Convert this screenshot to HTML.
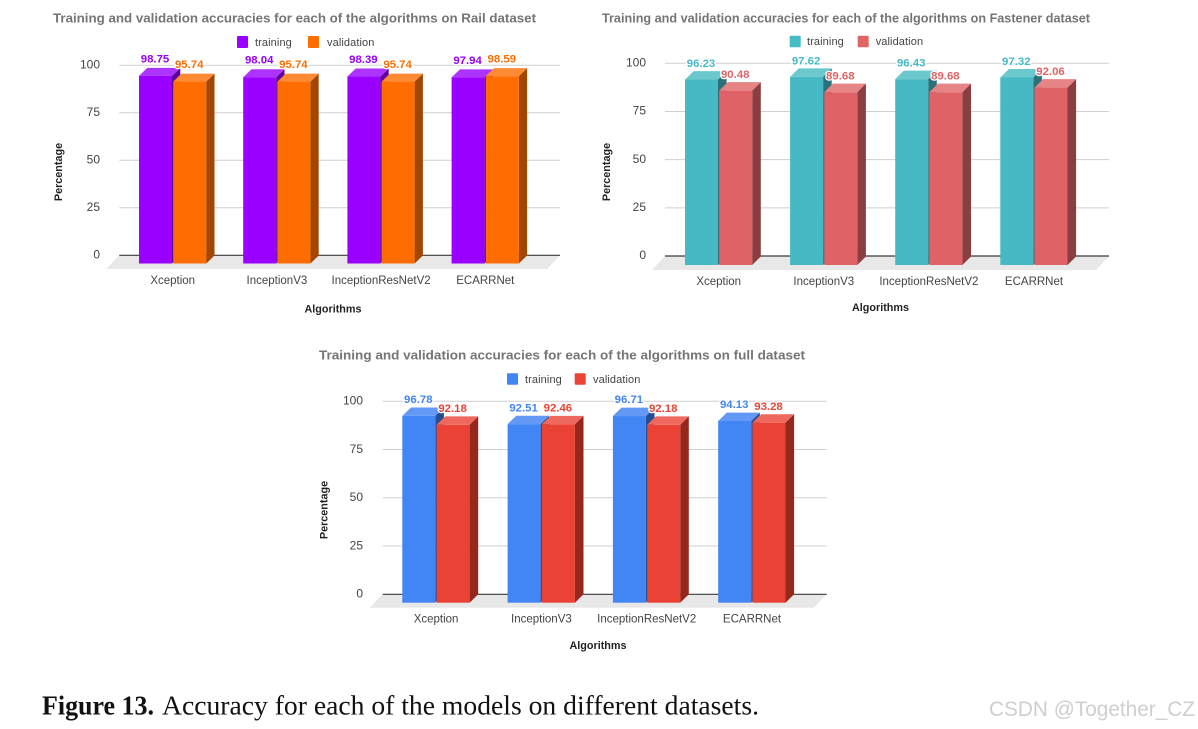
<!DOCTYPE html>
<html lang="en">
<head>
<meta charset="utf-8">
<title>Accuracy for each of the models on different datasets</title>
<style>
  html, body { margin: 0; padding: 0; background: #fff; }
  body { width: 1198px; height: 729px; overflow: hidden; }
  svg { display: block; font-family: "Liberation Sans", Arial, sans-serif; filter: blur(.35px); }
  .title { font-size: 13.2px; font-weight: bold; fill: #757575; }
  .legend { font-size: 11px; fill: #444; letter-spacing: .1px; }
  .axis-title { font-size: 10.8px; font-weight: bold; fill: #222; text-anchor: middle; }
  .caption { font-family: "Liberation Serif", serif; font-size: 27px; fill: #111; }
</style>
</head>
<body>
<svg id="figure" width="1198" height="729" viewBox="0 0 1198 729" xmlns="http://www.w3.org/2000/svg">

  <g id="rail-chart">
    <text class="title" x="53" y="22.5" textLength="483" lengthAdjust="spacingAndGlyphs">Training and validation accuracies for each of the algorithms on Rail dataset</text>
    <rect x="237" y="36" width="11" height="12" rx="1" fill="#9900ff"/>
    <text class="legend" x="255" y="46">training</text>
    <rect x="308" y="36" width="11" height="12" rx="1" fill="#ff6d01"/>
    <text class="legend" x="327" y="46">validation</text>
    <text class="axis-title" transform="translate(62,172) rotate(-90)">Percentage</text>
    <text class="axis-title" x="333" y="312.5">Algorithms</text>
  </g>

  <g id="fastener-chart">
    <text class="title" x="602" y="22.5" textLength="488" lengthAdjust="spacingAndGlyphs">Training and validation accuracies for each of the algorithms on Fastener dataset</text>
    <rect x="789.7" y="35.7" width="11" height="11.5" rx="1" fill="#46bdc6"/>
    <text class="legend" x="807" y="45">training</text>
    <rect x="857.7" y="35.7" width="11" height="11.5" rx="1" fill="#e06666"/>
    <text class="legend" x="875.7" y="45">validation</text>
    <text class="axis-title" transform="translate(610,172) rotate(-90)">Percentage</text>
    <text class="axis-title" x="880.5" y="311">Algorithms</text>
  </g>

  <g id="full-chart">
    <text class="title" x="319" y="359.5" textLength="486" lengthAdjust="spacingAndGlyphs">Training and validation accuracies for each of the algorithms on full dataset</text>
    <rect x="507" y="373.3" width="11" height="11.5" rx="1" fill="#4285f4"/>
    <text class="legend" x="525" y="383">training</text>
    <rect x="574.7" y="373.3" width="11" height="11.5" rx="1" fill="#ea4335"/>
    <text class="legend" x="593" y="383">validation</text>
    <text class="axis-title" transform="translate(327.5,510) rotate(-90)">Percentage</text>
    <text class="axis-title" x="598" y="649">Algorithms</text>
  </g>

  <text class="caption" x="42" y="714.5" font-weight="bold" textLength="112" lengthAdjust="spacingAndGlyphs">Figure 13.</text>
  <text class="caption" x="162" y="714.5" textLength="597" lengthAdjust="spacingAndGlyphs">Accuracy for each of the models on different datasets.</text>
  <text x="989" y="716" font-size="21" fill="#cfcfcf" textLength="206" lengthAdjust="spacingAndGlyphs">CSDN @Together_CZ</text>
</svg>

<script>
const categories = ['Xception', 'InceptionV3', 'InceptionResNetV2', 'ECARRNet'];
const tickValues = [0, 25, 50, 75, 100];

const railTraining = [98.75, 98.04, 98.39, 97.94];
const railValidation = [95.74, 95.74, 95.74, 98.59];

const fastenerTraining = [96.23, 97.62, 96.43, 97.32];
const fastenerValidation = [90.48, 89.68, 89.68, 92.06];

const fullTraining = [96.78, 92.51, 96.71, 94.13];
const fullValidation = [92.18, 92.46, 92.18, 93.28];

const SVG_NS = 'http://www.w3.org/2000/svg';

function svgEl(tag, attrs, parent) {
  const el = document.createElementNS(SVG_NS, tag);
  Object.keys(attrs).forEach(function (k) { el.setAttribute(k, attrs[k]); });
  parent.appendChild(el);
  return el;
}

function drawBar(parent, name, x, value, layout, colors) {
  const w = layout.barWidth;
  const dx = layout.depthX;
  const dy = layout.depthY;
  const bottom = layout.barBottom;
  const top = bottom - value * layout.unit;
  const bar = svgEl('g', {}, parent);
  
  
  const side = svgEl('polygon', {
    points: (x + w) + ',' + top + ' ' + (x + w + dx) + ',' + (top - dy) + ' ' +
            (x + w + dx) + ',' + (bottom - dy) + ' ' + (x + w) + ',' + bottom,
    fill: colors[2]
  }, bar);
  
  
  const cap = svgEl('polygon', {
    points: x + ',' + top + ' ' + (x + dx) + ',' + (top - dy) + ' ' +
            (x + w + dx) + ',' + (top - dy) + ' ' + (x + w) + ',' + top,
    fill: colors[1]
  }, bar);
  
  
  const front = svgEl('rect', { x: x, y: top, width: w, height: bottom - top, fill: colors[0] }, bar);
  
  
}

function drawChart(parentId, prefix, training, validation, layout) {
  const root = document.getElementById(parentId);
  const plot = document.createElementNS(SVG_NS, 'g');
  
  
  root.appendChild(plot);

  const yGrid = function (v) { return layout.zeroY - v * layout.unit; };
  const yTop = function (v) { return layout.barBottom - v * layout.unit - layout.depthY; };
  const xBar = function (i) { return layout.firstX + i * layout.step; };

  const floor = svgEl('polygon', {
    points: layout.gridLeft + ',' + layout.zeroY + ' ' + layout.gridRight + ',' + layout.zeroY + ' ' +
            (layout.gridRight - 13) + ',' + layout.floorBottom + ' ' + (layout.gridLeft - 13) + ',' + layout.floorBottom,
    fill: '#e8e8e8'
  }, plot);
  
  

  tickValues.forEach(function (t) {
    const line = svgEl('line', {
      x1: layout.gridLeft, x2: layout.gridRight, y1: yGrid(t), y2: yGrid(t),
      stroke: t === 0 ? '#3a3a3a' : '#cfcfcf', 'stroke-width': t === 0 ? 1.2 : 1
    }, plot);
    
    
    const label = svgEl('text', {
      x: layout.tickRight, y: yGrid(t) + 3.2, 'text-anchor': 'end', 'font-size': 12, fill: '#444'
    }, plot);
    label.textContent = String(t);
    
    
  });

  categories.forEach(function (cat, i) {
    const x = xBar(i);
    drawBar(plot, prefix + '-bar-training-' + i, x, training[i], layout, layout.trainColors);
    drawBar(plot, prefix + '-bar-validation-' + i, x + layout.valOffset, validation[i], layout, layout.valColors);
    const catLabel = svgEl('text', {
      x: x + layout.valOffset - 0.5, y: layout.catY, 'text-anchor': 'middle', 'font-size': 11.5, fill: '#444'
    }, plot);
    catLabel.textContent = cat;
    
    
  });

  categories.forEach(function (cat, i) {
    const x = xBar(i);
    const pairs = [
      [training[i], x + layout.barWidth / 2, layout.trainColors[0], 'training'],
      [validation[i], x + layout.valOffset + layout.barWidth / 2, layout.valColors[0], 'validation']
    ];
    pairs.forEach(function (p) {
      const vLabel = svgEl('text', {
        x: p[1] - 0.5, y: yTop(p[0]) - layout.labelGap, 'text-anchor': 'middle', 'font-size': 11.4,
        'font-weight': 'bold', fill: p[2], stroke: '#fff', 'stroke-width': 2.5, 'paint-order': 'stroke'
      }, plot);
      vLabel.textContent = p[0].toFixed(2);
      
      
    });
  });
}

drawChart('rail-chart', 'rail', railTraining, railValidation, {
  zeroY: 255.3, unit: 1.9, barBottom: 263.5, firstX: 139, step: 104.2, barWidth: 33, valOffset: 34.2,
  depthX: 8.3, depthY: 8, gridLeft: 119.3, gridRight: 560, floorBottom: 269, tickRight: 100, catY: 284,
  labelGap: 5.5,
  trainColors: ['#9900ff', '#ad33ff', '#5c0099'],
  valColors: ['#ff6d01', '#ff8a34', '#a34600']
});

drawChart('fastener-chart', 'fastener', fastenerTraining, fastenerValidation, {
  zeroY: 256, unit: 1.927, barBottom: 265, firstX: 685, step: 105.1, barWidth: 33, valOffset: 34.2,
  depthX: 8.6, depthY: 8.5, gridLeft: 665, gridRight: 1109, floorBottom: 270, tickRight: 646, catY: 285,
  labelGap: 4,
  trainColors: ['#46b9c4', '#6bc9cd', '#2a7178'],
  valColors: ['#df6366', '#e58385', '#8a3e40']
});

drawChart('full-chart', 'full', fullTraining, fullValidation, {
  zeroY: 594.3, unit: 1.93, barBottom: 602.7, firstX: 402.3, step: 105.3, barWidth: 33, valOffset: 34.3,
  depthX: 8.6, depthY: 8.4, gridLeft: 382.7, gridRight: 826.7, floorBottom: 607.7, tickRight: 363, catY: 622.5,
  labelGap: 4.4,
  trainColors: ['#4285f4', '#6399f5', '#254f92'],
  valColors: ['#ea4335', '#ee685d', '#94281d']
});
</script>
</body>
</html>
